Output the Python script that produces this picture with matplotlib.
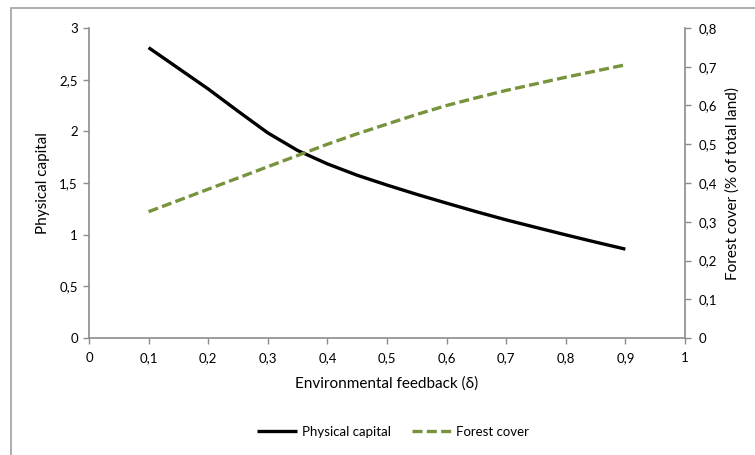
import matplotlib
matplotlib.use("Agg")
import matplotlib.pyplot as plt
from matplotlib.ticker import FuncFormatter, MultipleLocator

plt.rcParams['font.family'] = ['Lato', 'DejaVu Sans']

delta = [0.10, 0.15, 0.20, 0.25, 0.30, 0.35, 0.40, 0.45, 0.50,
         0.55, 0.60, 0.65, 0.70, 0.75, 0.80, 0.85, 0.90]
physical_capital = [2.81, 2.61, 2.41, 2.195, 1.985, 1.815, 1.685, 1.575, 1.48,
                    1.39, 1.305, 1.222, 1.143, 1.07, 0.998, 0.928, 0.86]
forest_cover = [0.326, 0.355, 0.384, 0.413, 0.442, 0.471, 0.500, 0.527, 0.552,
                0.577, 0.600, 0.620, 0.639, 0.656, 0.673, 0.689, 0.705]

GRAY = '#8c8c8c'
GREEN = '#77933C'

fig = plt.figure(figsize=(7.55, 4.55), dpi=100)

# outer chart-area frame (left and top edges visible)
bg = fig.add_axes([0, 0, 1, 1], zorder=-5)
bg.set_xlim(0, 755)
bg.set_ylim(455, 0)
bg.axis('off')
bg.plot([10.5, 10.5, 760], [460, 7.5, 7.5], color='#a0a0a0', lw=1.2,
        clip_on=False, solid_joinstyle='miter')

ax = fig.add_axes([89/755, 1-338/455, (685-89)/755, (338-28)/455])
ax.patch.set_alpha(0)
ax2 = ax.twinx()

l1, = ax.plot(delta, physical_capital, color='black', lw=2.4,
              solid_capstyle='butt', solid_joinstyle='round', label='Physical capital')
l2, = ax2.plot(delta, forest_cover, color=GREEN, lw=2.4, dashes=(3.0, 1.3),
               dash_capstyle='butt', label='Forest cover')

ax.set_xlim(0, 1)
ax.set_ylim(0, 3)
ax2.set_ylim(0, 0.8)
ax.xaxis.set_major_locator(MultipleLocator(0.1))
ax.yaxis.set_major_locator(MultipleLocator(0.5))
ax2.yaxis.set_major_locator(MultipleLocator(0.1))

def comma(v, pos):
    s = f"{v:.1f}".rstrip('0').rstrip('.')
    return s.replace('.', ',')

for a in (ax, ax2):
    a.xaxis.set_major_formatter(FuncFormatter(comma))
    a.yaxis.set_major_formatter(FuncFormatter(comma))
    a.spines['top'].set_visible(False)
    for sp in a.spines.values():
        sp.set_color(GRAY)
        sp.set_linewidth(1.2)
    a.tick_params(colors=GRAY, labelcolor='black', labelsize=9.5,
                  length=4, width=1.0, direction='out')

ax.spines['right'].set_visible(False)
ax2.spines['left'].set_visible(False)
ax2.spines['bottom'].set_visible(False)
ax.tick_params(axis='x', pad=6)
ax.tick_params(axis='y', pad=4)
ax2.tick_params(axis='y', pad=6)

ax.set_xlabel('Environmental feedback (δ)', fontsize=11, labelpad=9)
ax.set_ylabel('Physical capital', fontsize=11, labelpad=7)
ax2.set_ylabel('Forest cover (% of total land)', fontsize=11, labelpad=6)

fig.legend(handles=[l1, l2], loc='center', bbox_to_anchor=(393/755, 1-432/455),
           ncol=2, frameon=False, fontsize=9.5, handlelength=3.0,
           handletextpad=0.35, columnspacing=1.6)

fig.savefig('out.png', dpi=100)
